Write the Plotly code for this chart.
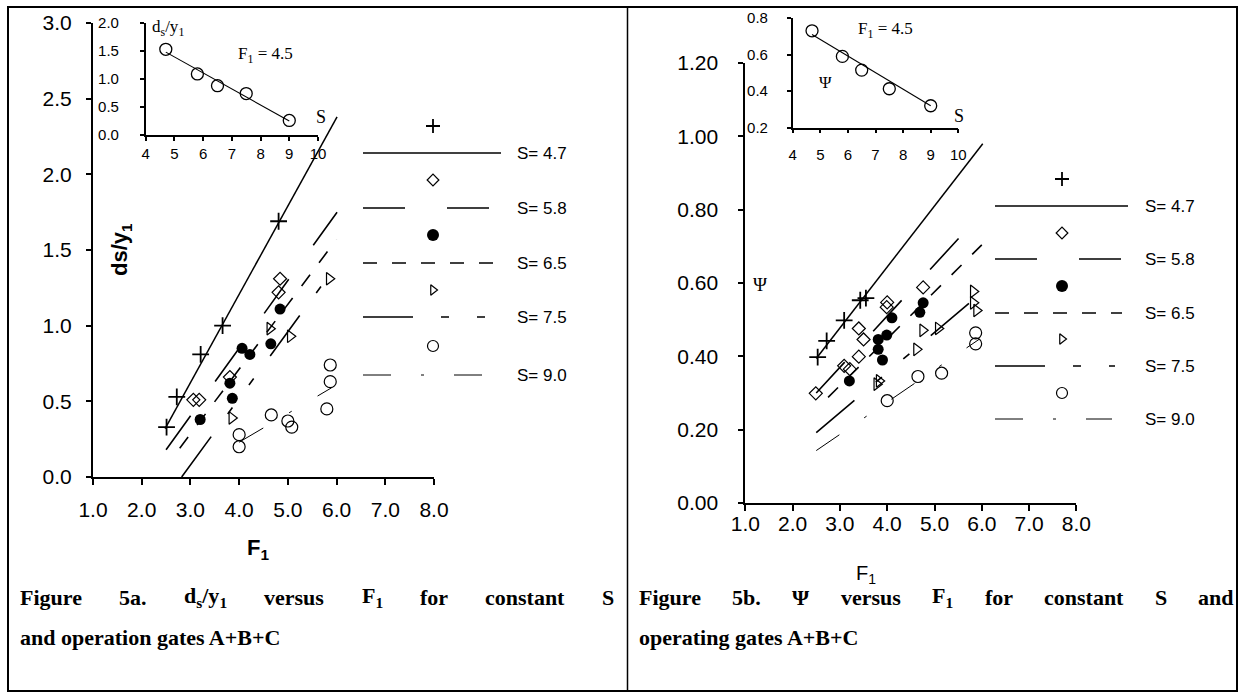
import plotly.graph_objects as go

# ================= DATA =================
S_labels = ["S= 4.7", "S= 5.8", "S= 6.5", "S= 7.5", "S= 9.0"]

# ---- Figure 5a : ds/y1 versus F1 ----
a_F_47 = [2.51, 2.72, 3.21, 3.66, 4.81]
a_V_47 = [0.33, 0.53, 0.81, 1.00, 1.69]
a_F_58 = [3.06, 3.18, 3.81, 4.81, 4.84]
a_V_58 = [0.51, 0.51, 0.66, 1.22, 1.31]
a_F_65 = [3.20, 3.81, 3.86, 4.06, 4.22, 4.65, 4.84]
a_V_65 = [0.38, 0.62, 0.52, 0.85, 0.81, 0.88, 1.11]
a_F_75 = [3.85, 4.63, 5.05, 5.85]
a_V_75 = [0.39, 0.98, 0.93, 1.31]
a_F_90 = [4.00, 4.00, 4.66, 5.00, 5.08, 5.80, 5.87, 5.87]
a_V_90 = [0.28, 0.20, 0.41, 0.37, 0.33, 0.45, 0.63, 0.74]

# fitted lines (end points)
a_fitF_47 = [2.48, 6.01]; a_fitV_47 = [0.32, 2.38]
a_fitF_58 = [2.50, 6.01]; a_fitV_58 = [0.18, 1.75]
a_fitF_65 = [2.78, 6.00]; a_fitV_65 = [0.19, 1.57]
a_fitF_75 = [2.82, 6.00]; a_fitV_75 = [0.00, 1.40]
a_fitF_90 = [4.00, 5.90]; a_fitV_90 = [0.23, 0.59]

# inset 5a : ds/y1 versus S at F1 = 4.5
inset_S = [4.7, 5.8, 6.5, 7.5, 9.0]
inset_a = [1.53, 1.09, 0.88, 0.74, 0.26]
inset_fitS = [4.7, 9.0]
inset_a_fit = [1.48, 0.25]

# ---- Figure 5b : Psi versus F1 ----
b_F_47 = [2.53, 2.72, 3.09, 3.43, 3.55]
b_P_47 = [0.398, 0.442, 0.498, 0.553, 0.559]
b_F_58 = [2.49, 3.09, 3.21, 3.40, 3.40, 3.50, 4.00, 3.99, 4.76]
b_P_58 = [0.299, 0.374, 0.365, 0.399, 0.476, 0.446, 0.547, 0.534, 0.588]
b_F_65 = [3.20, 3.81, 3.81, 3.90, 3.99, 4.10, 4.69, 4.76]
b_P_65 = [0.333, 0.446, 0.419, 0.390, 0.458, 0.505, 0.520, 0.546]
b_F_75 = [3.78, 3.83, 4.62, 4.75, 5.08, 5.82, 5.82, 5.89]
b_P_75 = [0.324, 0.333, 0.419, 0.471, 0.476, 0.577, 0.546, 0.525]
b_F_90 = [4.00, 4.65, 5.15, 5.87, 5.87]
b_P_90 = [0.279, 0.345, 0.354, 0.464, 0.434]

b_fitF_47 = [2.50, 6.02]; b_fitP_47 = [0.394, 0.980]
b_fitF_58 = [2.50, 6.00]; b_fitP_58 = [0.300, 0.790]
b_fitF_65 = [2.75, 6.00]; b_fitP_65 = [0.288, 0.704]
b_fitF_75 = [2.50, 6.00]; b_fitP_75 = [0.192, 0.574]
b_fitF_90 = [2.50, 5.95]; b_fitP_90 = [0.143, 0.447]

# inset 5b : Psi versus S at F1 = 4.5
inset_b = [0.73, 0.59, 0.515, 0.413, 0.32]
inset_b_fit = [0.71, 0.32]

# ================= STYLE / LAYOUT =================
W, H = 1245, 700
SANS = "Liberation Sans, Arial, sans-serif"
SERIF = "Liberation Serif, Times New Roman, serif"

SYMB = ['cross-thin', 'diamond-open', 'circle', 'triangle-right-open', 'circle-open']
SIZE = [12, 10, 11, 11, 12]
LEG_SIZE = [10, 9, 12, 9, 11]
DASH = ['solid', '42px,42px', '14px,15px', '50px,28px,8px,28px,8px,28px', '28px,30px,3px,30px']
LW = [1.5, 1.6, 1.6, 1.6, 1.0]


def marker(i, size):
    if SYMB[i] == 'circle':
        return dict(symbol='circle', size=size, color='black', line=dict(width=0))
    return dict(symbol=SYMB[i], size=size, color='black',
                line=dict(width=1.8 if i == 0 else 1.2, color='black'))


fig = go.Figure()

a_pts = [(a_F_47, a_V_47), (a_F_58, a_V_58), (a_F_65, a_V_65), (a_F_75, a_V_75), (a_F_90, a_V_90)]
a_fit = [(a_fitF_47, a_fitV_47), (a_fitF_58, a_fitV_58), (a_fitF_65, a_fitV_65),
         (a_fitF_75, a_fitV_75), (a_fitF_90, a_fitV_90)]
b_pts = [(b_F_47, b_P_47), (b_F_58, b_P_58), (b_F_65, b_P_65), (b_F_75, b_P_75), (b_F_90, b_P_90)]
b_fit = [(b_fitF_47, b_fitP_47), (b_fitF_58, b_fitP_58), (b_fitF_65, b_fitP_65),
         (b_fitF_75, b_fitP_75), (b_fitF_90, b_fitP_90)]

for (pts, fit, xa, ya) in [(a_pts, a_fit, 'x', 'y'), (b_pts, b_fit, 'x3', 'y3')]:
    for i in range(5):
        fig.add_trace(go.Scatter(x=fit[i][0], y=fit[i][1], mode='lines', xaxis=xa, yaxis=ya,
                                 line=dict(color='black', width=LW[i], dash=DASH[i]),
                                 hoverinfo='skip'))
    for i in range(5):
        fig.add_trace(go.Scatter(x=pts[i][0], y=pts[i][1], mode='markers', xaxis=xa, yaxis=ya,
                                 marker=marker(i, SIZE[i]), cliponaxis=False))

# insets
for (vals, fitv, xa, ya) in [(inset_a, inset_a_fit, 'x2', 'y2'), (inset_b, inset_b_fit, 'x4', 'y4')]:
    fig.add_trace(go.Scatter(x=inset_fitS, y=fitv, mode='lines', xaxis=xa, yaxis=ya,
                             line=dict(color='black', width=1.1)))
    fig.add_trace(go.Scatter(x=inset_S, y=vals, mode='markers', xaxis=xa, yaxis=ya,
                             marker=dict(symbol='circle-open', size=12, color='black',
                                         line=dict(width=1.3)), cliponaxis=False))

# ---- custom legends (drawn in a pixel overlay axis) ----
LEG_LEN_A = [138, 130, 130, 124, 120]
LEG_LEN_B = [133, 127, 127, 120, 117]
legends = [
    dict(x0=363, mx=433, lab_x=515, rows_m=[126, 180, 235, 290, 346], rows_l=[153, 208, 263, 317, 375], lens=LEG_LEN_A),
    dict(x0=995, mx=1062, lab_x=1143, rows_m=[179, 233, 286, 339, 393], rows_l=[206, 259, 313, 366, 419], lens=LEG_LEN_B),
]
annotations = []
for lg in legends:
    for i in range(5):
        yl = lg['rows_l'][i]
        fig.add_trace(go.Scatter(x=[lg['x0'], lg['x0'] + lg['lens'][i]], y=[yl, yl], mode='lines',
                                 xaxis='x5', yaxis='y5',
                                 line=dict(color='black', width=LW[i], dash=DASH[i])))
        fig.add_trace(go.Scatter(x=[lg['mx']], y=[lg['rows_m'][i]], mode='markers',
                                 xaxis='x5', yaxis='y5', marker=marker(i, LEG_SIZE[i])))
        annotations.append(dict(x=lg['lab_x'], y=yl, xref='x5', yref='y5', text=S_labels[i],
                                showarrow=False, xanchor='left', yanchor='middle',
                                font=dict(family=SANS, size=17, color='black')))


def txt(x, y, text, size, family=SANS, xanchor='center', bold=False, angle=0):
    if bold:
        text = '<b>' + text + '</b>'
    annotations.append(dict(x=x, y=y, xref='x5', yref='y5', text=text, showarrow=False,
                            xanchor=xanchor, yanchor='middle', textangle=angle,
                            font=dict(family=family, size=size, color='black')))


# axis titles
txt(121, 250, 'ds/y<sub>1</sub>', 22, bold=True, angle=-90)
txt(258, 549, 'F<sub>1</sub>', 22, bold=True)
txt(760, 284, 'Ψ', 19, family=SERIF)
txt(866, 574, 'F<sub>1</sub>', 20)
# inset texts
txt(150, 28, 'd<sub>s</sub>/y<sub>1</sub>', 17, family=SERIF, xanchor='left')
txt(236, 55, 'F<sub>1</sub> = 4.5', 17, family=SERIF, xanchor='left')
txt(314, 117, 'S', 18, family=SERIF, xanchor='left')
txt(856, 30, 'F<sub>1</sub> = 4.5', 17, family=SERIF, xanchor='left')
txt(825, 82, 'Ψ', 17, family=SERIF)
txt(952, 116, 'S', 18, family=SERIF, xanchor='left')

# captions (justified first lines: words placed individually)
cap_a1 = ['Figure', '5a.', 'd<sub>s</sub>/y<sub>1</sub>', 'versus', 'F<sub>1</sub>', 'for', 'constant', 'S']
cap_a1_x = [18, 117, 182, 262, 360, 418, 483, 600]
cap_b1 = ['Figure', '5b.', 'Ψ', 'versus', 'F<sub>1</sub>', 'for', 'constant', 'S', 'and']
cap_b1_x = [637, 730, 790, 839, 930, 983, 1042, 1153, 1196]
for w, x in zip(cap_a1, cap_a1_x):
    txt(x, 597, w, 22, family=SERIF, xanchor='left', bold=True)
for w, x in zip(cap_b1, cap_b1_x):
    txt(x, 597, w, 22, family=SERIF, xanchor='left', bold=True)
txt(18, 637, 'and operation gates A+B+C', 22, family=SERIF, xanchor='left', bold=True)
txt(637, 637, 'operating gates A+B+C', 22, family=SERIF, xanchor='left', bold=True)


def px(x):
    return x / W


def py(y):
    return 1 - y / H


def ax(**kw):
    d = dict(showline=True, linecolor='black', linewidth=2, ticks='outside', ticklen=6,
             tickwidth=2, tickcolor='black', showgrid=False, zeroline=False, fixedrange=True,
             automargin=False, tickfont=dict(family=SANS, size=21, color='black'))
    d.update(kw)
    return d


small = dict(family=SANS, size=15, color='black')

fig.update_layout(
    width=W, height=H, margin=dict(l=0, r=0, t=0, b=0), template='none',
    paper_bgcolor='white', plot_bgcolor='rgba(0,0,0,0)', showlegend=False,
    xaxis=ax(domain=[px(93), px(434)], range=[1, 8], dtick=1, tick0=1, tickformat='.1f',
             anchor='y', ticklabelstandoff=7),
    yaxis=ax(domain=[py(477), py(23)], range=[0, 3], dtick=0.5, tick0=0, tickformat='.1f',
             anchor='x', ticklen=5, ticklabelstandoff=10),
    xaxis2=ax(domain=[px(145.7), px(318)], range=[4, 10], dtick=1, tick0=4, anchor='y2',
              linewidth=1.5, tickwidth=1.5, ticklen=4, tickfont=small, ticklabelstandoff=0),
    yaxis2=ax(domain=[py(135), py(23)], range=[0, 2], dtick=0.5, tick0=0, tickformat='.1f',
              anchor='x2', linewidth=1.5, tickwidth=1.5, ticklen=4, tickfont=small,
              ticklabelstandoff=18),
    xaxis3=ax(domain=[px(745.3), px(1076.4)], range=[1, 8], dtick=1, tick0=1, tickformat='.1f',
              anchor='y3', ticklabelstandoff=-5),
    yaxis3=ax(domain=[py(503), py(63)], range=[0, 1.2], dtick=0.2, tick0=0, tickformat='.2f',
              anchor='x3', ticklen=5, ticklabelstandoff=16),
    xaxis4=ax(domain=[px(792.7), px(958.3)], range=[4, 10], dtick=1, tick0=4, anchor='y4',
              linewidth=1.5, tickwidth=1.5, ticklen=4, tickfont=small, ticklabelstandoff=9),
    yaxis4=ax(domain=[py(127.7), py(18)], range=[0.2, 0.8], dtick=0.2, tick0=0.2,
              tickformat='.1f', anchor='x4', linewidth=1.5, tickwidth=1.5, ticklen=4,
              tickfont=small, ticklabelstandoff=16),
    xaxis5=dict(domain=[0, 1], range=[0, W], visible=False, fixedrange=True, anchor='y5'),
    yaxis5=dict(domain=[0, 1], range=[H, 0], visible=False, fixedrange=True, anchor='x5'),
    annotations=annotations,
    shapes=[
        dict(type='rect', xref='x5', yref='y5', x0=8, y0=7, x1=1237, y1=691,
             line=dict(color='black', width=2)),
        dict(type='line', xref='x5', yref='y5', x0=627.5, y0=7, x1=627.5, y1=691,
             line=dict(color='black', width=1.5)),
    ],
)

fig.write_html("out.html")
